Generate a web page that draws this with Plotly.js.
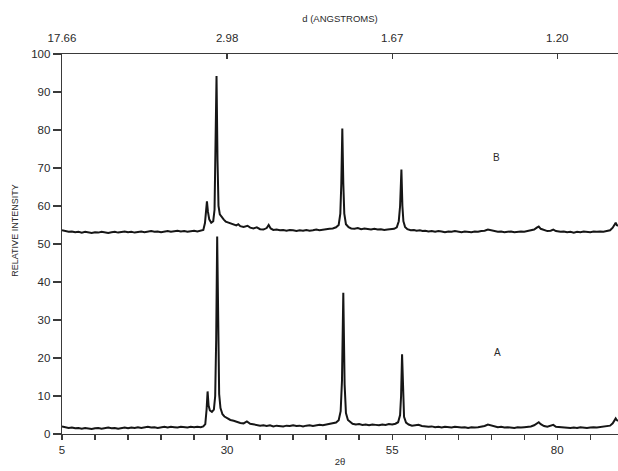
<!DOCTYPE html>
<html>
<head>
<meta charset="utf-8">
<script src="https://cdn.plot.ly/plotly-3.0.1.min.js"></script>
<style>html,body{margin:0;padding:0;background:#fff;}#chart{width:618px;height:471px;}</style>
</head>
<body>
<div id="chart"></div>
<script>
// 2-theta positions and relative intensities for pattern A
const twoThetaA = [5,5.5,6,6.5,7,7.5,8,8.5,9,9.5,10,10.5,11,11.5,12,12.5,13,13.5,14,14.5,15,15.5,16,16.5,17,17.5,18,18.5,19,19.5,20,20.5,21,21.5,22,22.5,23,23.5,24,24.5,25,25.5,26,26.4,26.7,26.9,27.05,27.2,27.4,27.7,28.0,28.2,28.35,28.5,28.65,28.8,29.0,29.3,29.6,30,30.5,31,31.5,32,32.5,33.0,33.5,34,34.5,35,35.5,36,36.5,37,37.5,38,38.5,39,39.5,40,40.5,41,41.5,42,42.5,43,43.5,44,44.5,45,45.5,46,46.5,46.9,47.2,47.4,47.6,47.8,48.0,48.3,48.7,49,49.5,50,50.5,51,51.5,52,52.5,53,53.5,54,54.5,55,55.5,55.9,56.2,56.35,56.5,56.65,56.8,57.1,57.5,58,58.5,59,59.5,60,60.5,61,61.5,62,62.5,63,63.5,64,64.5,65,65.5,66,66.5,67,67.5,68,68.5,69,69.5,70,70.5,71,71.5,72,72.5,73,73.5,74,74.5,75,75.5,76,76.5,76.9,77.2,77.5,78,78.5,79,79.4,79.8,80.5,81,81.5,82,82.5,83,83.5,84,84.5,85,85.5,86,86.5,87,87.5,88,88.4,88.7,88.85,89.0,89.2];
const intensityA = [2.0,1.8,1.6,1.7,1.5,1.6,1.4,1.6,1.5,1.3,1.5,1.6,1.4,1.5,1.7,1.5,1.6,1.4,1.6,1.7,1.5,1.7,1.6,1.8,1.6,1.7,1.9,1.7,1.8,1.6,1.8,1.9,1.7,1.9,1.8,1.7,1.9,1.8,1.7,1.9,1.8,1.9,1.8,2.0,2.6,6.5,11.2,7.5,6.2,5.8,6.4,10,25,52.0,24,10.5,6.8,5.2,4.6,4.1,3.7,3.5,3.1,2.9,2.8,3.3,2.7,2.5,2.3,2.2,2.3,2.1,2.3,2.0,2.2,2.1,2.0,2.2,2.1,2.3,2.1,2.2,2.0,2.2,2.3,2.1,2.3,2.4,2.3,2.5,2.6,2.7,3.0,3.6,6,14,37.2,13,5.5,3.7,3.0,2.7,2.5,2.6,2.4,2.5,2.3,2.5,2.4,2.3,2.5,2.4,2.6,2.5,2.7,3.1,5,10,21.0,9.5,4.5,3.0,2.5,2.2,2.3,2.4,2.1,2.0,1.9,2.0,1.8,1.9,1.7,1.9,1.8,1.7,1.9,1.8,1.7,1.8,1.6,1.8,1.7,1.8,1.9,2.1,2.5,2.2,1.9,1.8,1.9,1.7,1.8,1.7,1.6,1.8,1.7,1.8,1.9,2.0,2.3,2.8,3.1,2.6,2.1,1.9,2.1,2.4,1.9,1.8,1.7,1.8,1.6,1.7,1.6,1.8,1.7,1.6,1.7,1.8,1.7,1.8,1.9,2.0,2.2,2.8,3.8,4.1,3.7,3.4];

// 2-theta positions and relative intensities for pattern B
const twoThetaB = [5,5.5,6,6.5,7,7.5,8,8.5,9,9.5,10,10.5,11,11.5,12,12.5,13,13.5,14,14.5,15,15.5,16,16.5,17,17.5,18,18.5,19,19.5,20,20.5,21,21.5,22,22.5,23,23.5,24,24.5,25,25.5,26,26.4,26.65,26.8,26.95,27.1,27.3,27.6,27.9,28.1,28.25,28.4,28.55,28.7,28.9,29.2,29.5,29.8,30.2,30.6,31,31.4,31.7,32,32.5,33.1,33.5,34,34.5,35,35.5,36.0,36.3,36.6,37,37.5,38,38.5,39,39.5,40,40.5,41,41.5,42,42.5,43,43.5,44,44.5,45,45.5,46,46.5,46.9,47.15,47.3,47.45,47.6,47.75,48.0,48.4,48.8,49.3,49.8,50.3,50.8,51.3,51.8,52.3,52.8,53.3,53.8,54.3,54.8,55.3,55.7,56.0,56.2,56.4,56.55,56.7,56.95,57.3,57.8,58.3,58.7,59.2,59.6,60,60.5,61,61.5,62,62.5,63,63.5,64,64.5,65,65.5,66,66.5,67,67.5,68,68.5,69,69.5,70,70.5,71,71.5,72,72.5,73,73.5,74,74.5,75,75.5,76,76.5,76.9,77.2,77.5,78,78.5,79,79.4,79.8,80.5,81,81.5,82,82.5,83,83.5,84,84.5,85,85.5,86,86.5,87,87.5,88,88.4,88.7,88.85,89.0,89.2];
const intensityB = [53.6,53.4,53.2,53.3,53.1,53.2,53.0,53.2,53.1,52.9,53.1,53.0,53.2,53.1,52.9,53.1,53.2,53.0,53.1,53.3,53.1,53.2,53.0,53.2,53.3,53.1,53.2,53.4,53.2,53.3,53.1,53.3,53.4,53.2,53.3,53.5,53.3,53.4,53.2,53.4,53.5,53.3,53.5,53.7,55.5,59,61.2,58.5,56.5,55.6,56.0,59,72,94.2,72,60,57.8,57.0,56.4,55.9,55.6,55.3,55.1,54.9,55.2,54.7,54.5,54.8,54.3,54.1,54.4,53.9,53.8,54.2,55.0,54.1,53.7,53.8,53.6,53.7,53.5,53.7,53.6,53.4,53.6,53.5,53.7,53.5,53.6,53.8,53.6,53.8,53.9,54.0,54.1,54.4,55.0,58,66,80.4,66,58,55.2,54.4,54.1,54.0,54.2,53.9,54.1,54.0,53.8,54.0,53.8,53.9,53.7,53.8,53.9,54.0,54.4,56,60,69.6,60,56,54.5,53.9,53.6,53.7,53.5,53.6,53.4,53.5,53.3,53.4,53.2,53.4,53.3,53.1,53.3,53.2,53.4,53.2,53.1,53.3,53.2,53.1,53.3,53.2,53.4,53.5,53.8,53.6,53.4,53.2,53.3,53.1,53.2,53.3,53.1,53.2,53.3,53.2,53.4,53.5,53.8,54.3,54.6,54.0,53.6,53.4,53.5,53.8,53.4,53.2,53.3,53.1,53.2,53.0,53.2,53.1,53.3,53.2,53.1,53.3,53.2,53.3,53.2,53.4,53.6,54.3,55.4,55.6,55.0,54.8];

// axis ticks
const bottomTickVals = [5,10,15,20,25,30,35,40,45,50,55,60,65,70,75,80,85];
const bottomTickText = ['5','','','','','30','','','','','55','','','','','80',''];
const topTickVals = [5,30,55,80];
const topTickText = ['17.66','2.98','1.67','1.20'];
const yTickVals = [0,10,20,30,40,50,60,70,80,90,100];
const seriesLabels = ['A','B'];
const labelPos = [[71,21.4],[70.8,72.8]];

const ink = '#161616';
const textCol = '#2a2a2a';
const axisCol = '#3a3a3a';
const fontFam = 'Liberation Sans, Arial, Helvetica, sans-serif';

const traces = [
  {x: twoThetaA, y: intensityA, type: 'scatter', mode: 'lines', name: 'A',
   xaxis: 'x', yaxis: 'y',
   line: {color: ink, width: 2, shape: 'linear'}, showlegend: false, hoverinfo: 'x+y'},
  {x: twoThetaB, y: intensityB, type: 'scatter', mode: 'lines', name: 'B',
   xaxis: 'x2', yaxis: 'y',
   line: {color: ink, width: 2, shape: 'linear'}, showlegend: false, hoverinfo: 'x+y'}
];

const annotations = seriesLabels.map((t, i) => ({
  x: labelPos[i][0], y: labelPos[i][1], xref: 'x', yref: 'y',
  text: t, showarrow: false, font: {size: 10, color: textCol}
}));
// y-axis title, placed as in the original figure
annotations.push({
  x: -0.0845, y: 53.5, xref: 'paper', yref: 'y', textangle: -90,
  xanchor: 'center', yanchor: 'middle',
  text: 'RELATIVE INTENSITY', showarrow: false,
  font: {size: 9, color: textCol}
});

const layout = {
  width: 618, height: 471,
  margin: {l: 62, r: 0, t: 54, b: 37, pad: 0},
  paper_bgcolor: '#ffffff', plot_bgcolor: '#ffffff',
  font: {family: fontFam, color: textCol, size: 11},
  showlegend: false,
  xaxis: {
    range: [5, 89.2], showgrid: false, zeroline: false,
    showline: true, linecolor: axisCol, linewidth: 1.3,
    tickmode: 'array', tickvals: bottomTickVals, ticktext: bottomTickText,
    ticks: 'outside', ticklen: 5, tickwidth: 1.3, tickcolor: axisCol,
    tickfont: {size: 11.5, color: textCol},
    title: {text: '2θ', font: {size: 9.5, color: textCol}, standoff: 3}
  },
  xaxis2: {
    overlaying: 'x', side: 'top', anchor: 'y', matches: 'x',
    range: [5, 89.2], showgrid: false, zeroline: false,
    showline: true, linecolor: axisCol, linewidth: 1.3,
    tickmode: 'array', tickvals: topTickVals, ticktext: topTickText,
    ticks: 'inside', ticklen: 5, tickwidth: 1.3, tickcolor: axisCol,
    ticklabelstandoff: 6,
    tickfont: {size: 11.5, color: textCol},
    title: {text: 'd (ANGSTROMS)', font: {size: 9.5, color: textCol}, standoff: 7}
  },
  yaxis: {
    range: [0, 100], showgrid: false, zeroline: false,
    showline: true, linecolor: axisCol, linewidth: 1.3,
    tickmode: 'array', tickvals: yTickVals,
    ticks: 'outside', ticklen: 8, tickwidth: 1.3, tickcolor: axisCol,
    tickfont: {size: 11.5, color: textCol}
  },
  annotations: annotations
};

Plotly.newPlot('chart', traces, layout, {displayModeBar: false, staticPlot: true});
</script>
</body>
</html>
